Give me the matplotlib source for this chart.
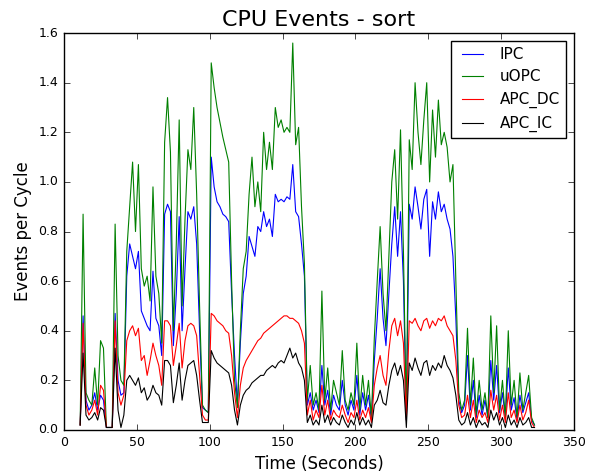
import numpy as np
import matplotlib
matplotlib.use("Agg")
import matplotlib.pyplot as plt

# Sample times (seconds), one sample every 2 s
time_s = np.arange(11, 324, 2)

ipc = [
    0.02, 0.46, 0.12, 0.08, 0.10, 0.15, 0.08, 0.14, 0.12, 0.01,
    0.01, 0.01, 0.47, 0.20, 0.14, 0.15, 0.62, 0.75, 0.70, 0.65,
    0.72, 0.48, 0.45, 0.42, 0.40, 0.64, 0.45, 0.42, 0.30, 0.87,
    0.91, 0.88, 0.34, 0.55, 0.86, 0.40, 0.65, 0.88, 0.85, 0.90,
    0.75, 0.40, 0.09, 0.08, 0.07, 1.10, 0.98, 0.92, 0.90, 0.87,
    0.86, 0.84, 0.55, 0.30, 0.10, 0.35, 0.55, 0.62, 0.78, 0.74,
    0.70, 0.82, 0.80, 0.88, 0.82, 0.85, 0.78, 0.95, 0.92, 0.93,
    0.92, 0.94, 0.93, 1.07, 0.88, 0.86, 0.75, 0.62, 0.10, 0.15,
    0.08, 0.12, 0.07, 0.26, 0.10, 0.16, 0.06, 0.14, 0.10, 0.08,
    0.20, 0.10, 0.06, 0.12, 0.08, 0.22, 0.06, 0.15, 0.08, 0.14,
    0.04, 0.28, 0.45, 0.65, 0.45, 0.34, 0.55, 0.75, 0.90, 0.70,
    0.88, 0.60, 0.04, 0.91, 0.85, 0.98, 0.90, 0.81, 0.93, 0.97,
    0.70, 0.92, 0.85, 0.96, 0.88, 0.91, 0.85, 0.81, 0.70, 0.45,
    0.12, 0.07, 0.10, 0.30, 0.08, 0.20, 0.05, 0.14, 0.06, 0.12,
    0.05, 0.28, 0.12, 0.26, 0.07, 0.15, 0.05, 0.25, 0.08, 0.13,
    0.04, 0.14, 0.07, 0.11, 0.15, 0.04, 0.02,
]

uopc = [
    0.02, 0.87, 0.15, 0.12, 0.10, 0.25, 0.10, 0.36, 0.33, 0.01,
    0.01, 0.01, 0.83, 0.30, 0.20, 0.18, 0.72, 0.90, 1.08, 0.80,
    1.07, 0.65, 0.58, 0.62, 0.52, 0.98, 0.62, 0.55, 0.35, 1.16,
    1.34, 1.12, 0.40, 0.75, 1.25, 0.50, 0.85, 1.13, 1.05, 1.30,
    0.95, 0.50, 0.10, 0.08, 0.07, 1.48, 1.38, 1.30, 1.24, 1.18,
    1.13, 1.08, 0.60, 0.20, 0.09, 0.40, 0.65, 0.72, 0.95, 1.10,
    0.90, 1.00, 0.88, 1.20, 1.05, 1.16, 1.05, 1.30, 1.22, 1.25,
    1.20, 1.22, 1.20, 1.56, 1.15, 1.22, 0.90, 0.67, 0.12, 0.26,
    0.10, 0.15, 0.08, 0.56, 0.12, 0.25, 0.08, 0.20, 0.15, 0.10,
    0.32, 0.12, 0.08, 0.15, 0.10, 0.35, 0.08, 0.22, 0.10, 0.20,
    0.05, 0.37, 0.60, 0.82, 0.55, 0.40, 0.70, 1.00, 1.13, 0.85,
    1.21, 0.72, 0.05, 1.17, 1.05, 1.40, 1.20, 1.07, 1.25, 1.40,
    1.00, 1.29, 1.10, 1.33, 1.15, 1.20, 1.14, 1.00, 1.07, 0.60,
    0.15, 0.08, 0.12, 0.41, 0.10, 0.29, 0.06, 0.20, 0.08, 0.15,
    0.05, 0.46, 0.15, 0.42, 0.08, 0.20, 0.05, 0.40, 0.10, 0.20,
    0.05, 0.23, 0.08, 0.15, 0.22, 0.05, 0.02,
]

apc_dc = [
    0.02, 0.43, 0.10, 0.06, 0.08, 0.12, 0.06, 0.18, 0.16, 0.01,
    0.01, 0.01, 0.44, 0.15, 0.10, 0.14, 0.36, 0.40, 0.42, 0.38,
    0.41, 0.28, 0.30, 0.22, 0.28, 0.35, 0.30, 0.26, 0.18, 0.44,
    0.44, 0.42, 0.26, 0.34, 0.43, 0.25, 0.36, 0.42, 0.43, 0.42,
    0.38, 0.22, 0.06, 0.04, 0.04, 0.47, 0.46, 0.44, 0.43, 0.42,
    0.40, 0.39, 0.30, 0.15, 0.05, 0.18, 0.25, 0.28, 0.30, 0.32,
    0.34, 0.36, 0.37, 0.39, 0.40, 0.41, 0.42, 0.43, 0.44, 0.45,
    0.46, 0.46, 0.45, 0.45, 0.44, 0.43, 0.40, 0.35, 0.06, 0.12,
    0.04, 0.08, 0.05, 0.18, 0.06, 0.12, 0.04, 0.08, 0.06, 0.05,
    0.10, 0.06, 0.03, 0.07, 0.05, 0.12, 0.04, 0.08, 0.05, 0.09,
    0.03, 0.18, 0.25, 0.30, 0.22, 0.18, 0.32, 0.42, 0.45, 0.38,
    0.44, 0.35, 0.04, 0.44, 0.43, 0.45, 0.42, 0.40, 0.44, 0.45,
    0.41, 0.44, 0.42, 0.45, 0.44, 0.46, 0.42, 0.40, 0.38, 0.28,
    0.10, 0.05, 0.06, 0.14, 0.05, 0.12, 0.03, 0.08, 0.05, 0.07,
    0.03, 0.16, 0.08, 0.14, 0.04, 0.10, 0.03, 0.15, 0.05, 0.08,
    0.03, 0.10, 0.04, 0.07, 0.12, 0.03, 0.01,
]

apc_ic = [
    0.02, 0.31, 0.06, 0.04, 0.05, 0.07, 0.04, 0.09, 0.08, 0.01,
    0.01, 0.01, 0.33, 0.08, 0.01, 0.06, 0.20, 0.22, 0.20, 0.18,
    0.21, 0.15, 0.17, 0.12, 0.14, 0.18, 0.15, 0.14, 0.10, 0.28,
    0.28, 0.26, 0.11, 0.18, 0.27, 0.12, 0.20, 0.26, 0.27, 0.28,
    0.22, 0.12, 0.03, 0.03, 0.03, 0.32, 0.29, 0.27, 0.26, 0.25,
    0.24, 0.23, 0.18, 0.08, 0.02, 0.10, 0.14, 0.16, 0.17, 0.19,
    0.20, 0.21, 0.22, 0.22, 0.24, 0.25, 0.26, 0.25, 0.27, 0.28,
    0.27, 0.30, 0.33, 0.29, 0.31, 0.27, 0.25, 0.20, 0.03, 0.06,
    0.02, 0.04, 0.02, 0.10, 0.03, 0.06, 0.02, 0.05, 0.03, 0.02,
    0.06, 0.03, 0.01, 0.04, 0.02, 0.07, 0.02, 0.05, 0.02, 0.04,
    0.01, 0.10, 0.12, 0.16, 0.11, 0.10, 0.18, 0.24, 0.27, 0.22,
    0.26, 0.20, 0.01, 0.27, 0.24, 0.29, 0.25, 0.22, 0.27, 0.28,
    0.22, 0.26, 0.24, 0.27, 0.25, 0.30, 0.26, 0.24, 0.21, 0.14,
    0.04, 0.02, 0.03, 0.07, 0.02, 0.05, 0.01, 0.04, 0.02, 0.03,
    0.01, 0.08, 0.04, 0.07, 0.02, 0.05, 0.01, 0.06, 0.02, 0.04,
    0.01, 0.05, 0.02, 0.03, 0.05, 0.01, 0.01,
]

series = [
    ("IPC", ipc, "b"),
    ("uOPC", uopc, "g"),
    ("APC_DC", apc_dc, "r"),
    ("APC_IC", apc_ic, "k"),
]

plt.style.use("classic")
plt.rcParams["font.family"] = ["DejaVu Sans"]

fig = plt.figure(figsize=(5.94, 4.73), dpi=100, facecolor="white")
ax = fig.add_axes([0.108, 0.091, 0.858, 0.839])

for name, vals, col in series:
    ax.plot(time_s, vals, color=col, lw=0.8, label=name)

ax.set_xlim(0, 350)
ax.set_ylim(0, 1.6)
ax.set_xticks(np.arange(0, 351, 50))
ax.set_yticks(np.arange(0, 1.61, 0.2))
ax.tick_params(labelsize=9)
ax.set_title("CPU Events - sort", fontsize=16)
ax.set_xlabel("Time (Seconds)", fontsize=12)
ax.set_ylabel("Events per Cycle", fontsize=12)
ax.legend(loc="upper right", fontsize=11, handlelength=2.0)

fig.savefig("out.png", dpi=100, facecolor="white")
